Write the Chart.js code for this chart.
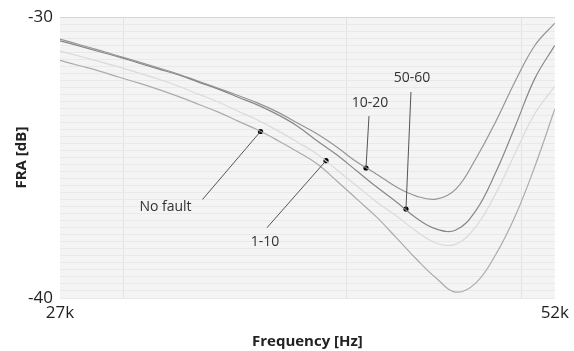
<!DOCTYPE html>
<html>
<head>
<meta charset="utf-8">
<script src="https://cdn.jsdelivr.net/npm/chart.js@4"></script>
<style>
  html,body{margin:0;padding:0;background:#fff;}
  #wrap{width:574px;height:351px;}
</style>
</head>
<body>
<div id="wrap"><canvas id="c" width="574" height="351"></canvas></div>
<script>
// frequency in kHz, FRA in dB
const freq = [27,28,29,30,31,32,33,34,35,36,37,38,39,40,41,42,43,44,45,46,47,48,49,50,51,52];
const noFault = [-31.54,-31.73,-31.92,-32.14,-32.35,-32.58,-32.83,-33.10,-33.38,-33.70,-34.02,-34.39,-34.79,-35.23,-35.84,-36.48,-37.12,-37.86,-38.61,-39.29,-39.79,-39.47,-38.47,-37.08,-35.30,-33.27];
const f1to10 = [-31.21,-31.39,-31.58,-31.78,-31.99,-32.21,-32.46,-32.74,-33.02,-33.35,-33.67,-34.04,-34.45,-34.88,-35.44,-36.01,-36.58,-37.08,-37.62,-38.04,-38.08,-37.47,-36.30,-34.84,-33.42,-32.46];
const f10to20 = [-30.78,-30.98,-31.18,-31.39,-31.60,-31.81,-32.03,-32.28,-32.53,-32.79,-33.06,-33.38,-33.77,-34.16,-34.63,-35.16,-35.59,-36.05,-36.37,-36.48,-36.12,-35.05,-33.74,-32.28,-31.00,-30.21];
const f50to60 = [-30.84,-31.03,-31.23,-31.42,-31.64,-31.85,-32.06,-32.31,-32.56,-32.85,-33.13,-33.47,-33.88,-34.41,-34.91,-35.48,-36.05,-36.58,-37.15,-37.54,-37.58,-36.90,-35.55,-33.88,-32.17,-31.00];

// callout dots sit on the curves
const markLabels = ["No fault","1-10","10-20","50-60"];
const markFreq = [37.13,40.44,42.46,44.48];
const markDb = [-34.07,-35.11,-35.37,-36.83];

const xGridTicks = [27,30.2,41.5,50.3,52];
const xLabels = {27:"27k",52:"52k"};

// leader line end / label centre, px offsets from the dot
const callout = [
  {lx:-58,ly:68, tx:-95,ty:76},
  {lx:-59,ly:67, tx:-61,ty:81},
  {lx:3,ly:-52, tx:4,ty:-65},
  {lx:5,ly:-117, tx:6,ty:-131}
];

const pts = arr => freq.map((f,i)=>({x:f,y:arr[i]}));

const plotBg = {
  id:"plotBg",
  beforeDraw(ch){
    const {ctx,chartArea:a} = ch;
    ctx.save(); ctx.fillStyle="#f4f4f4";
    ctx.fillRect(a.left,a.top,a.right-a.left,a.bottom-a.top);
    ctx.restore();
  }
};

const calloutPlugin = {
  id:"callouts",
  afterDatasetsDraw(ch){
    const {ctx} = ch;
    const meta = ch.getDatasetMeta(4);
    ctx.save();
    ctx.strokeStyle="#555"; ctx.lineWidth=1;
    ctx.fillStyle="#333"; ctx.font="14px 'Open Sans', sans-serif";
    ctx.textAlign="center"; ctx.textBaseline="middle";
    meta.data.forEach((p,i)=>{
      const c = callout[i];
      ctx.beginPath(); ctx.moveTo(p.x,p.y); ctx.lineTo(p.x+c.lx,p.y+c.ly); ctx.stroke();
      ctx.fillText(markLabels[i],p.x+c.tx,p.y+c.ty);
    });
    ctx.restore();
  }
};

Chart.defaults.font.family = "'Open Sans', sans-serif";
Chart.defaults.color = "#222";

new Chart(document.getElementById("c"),{
  type:"line",
  data:{datasets:[
    {label:"No fault",data:pts(noFault),borderColor:"#ababab",borderWidth:1.2},
    {label:"1-10",data:pts(f1to10),borderColor:"#dadada",borderWidth:1.2},
    {label:"50-60",data:pts(f50to60),borderColor:"#888",borderWidth:1.2},
    {label:"10-20",data:pts(f10to20),borderColor:"#959595",borderWidth:1.2},
    {type:"scatter",label:"marks",data:markFreq.map((f,i)=>({x:f,y:markDb[i]})),
      pointRadius:2.6,pointBackgroundColor:"#000",pointBorderWidth:0,showLine:false}
  ]},
  options:{
    responsive:false,animation:false,
    layout:{padding:{top:16,right:17,left:0,bottom:0}},
    elements:{point:{radius:0},line:{tension:0.4}},
    plugins:{legend:{display:false},tooltip:{enabled:false}},
    scales:{
      x:{type:"linear",min:27,max:52,
        afterBuildTicks:s=>{s.ticks = xGridTicks.map(v=>({value:v}));},
        afterFit:s=>{s.height=53;},
        border:{display:false},
        grid:{drawTicks:false,color:c=>(c.tick && (c.tick.value===27||c.tick.value===52))?"rgba(0,0,0,0)":"#e3e3e3"},
        ticks:{autoSkip:false,maxRotation:0,padding:5,font:{size:17},
          callback:v=>xLabels[v]||""},
        title:{display:true,text:"Frequency [Hz]",font:{size:15,weight:"bold"},padding:{top:0,bottom:0}}
      },
      y:{min:-40,max:-30,
        afterBuildTicks:s=>{const t=[];for(let v=-40;v<=-30;v+=0.25)t.push({value:v});s.ticks=t;},
        afterFit:s=>{s.width=60;},
        border:{display:false},
        grid:{drawTicks:false,color:c=>(c.tick && c.tick.value===-30)?"#d6d6d6":"#e9e9e9"},
        ticks:{autoSkip:false,padding:7,font:{size:17},
          callback:v=>(v===-30||v===-40)?String(v):""},
        title:{display:true,text:"FRA [dB]",font:{size:15,weight:"bold"},padding:{top:13,bottom:0}}
      }
    }
  },
  plugins:[plotBg,calloutPlugin]
});
</script>
</body>
</html>
